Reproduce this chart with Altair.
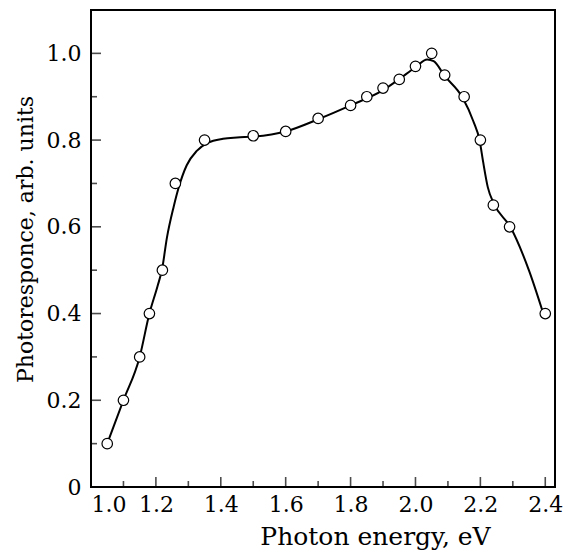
import altair as alt
import pandas as pd

# measured points
energy = [1.05, 1.10, 1.15, 1.18, 1.22, 1.26, 1.35, 1.50, 1.60, 1.70, 1.80, 1.85,
          1.90, 1.95, 2.00, 2.05, 2.09, 2.15, 2.20, 2.24, 2.29, 2.40]
response = [0.10, 0.20, 0.30, 0.40, 0.50, 0.70, 0.80, 0.81, 0.82, 0.85, 0.88, 0.90,
            0.92, 0.94, 0.97, 1.00, 0.95, 0.90, 0.80, 0.65, 0.60, 0.40]

# smooth curve
curve_x = [1.05, 1.10, 1.15, 1.18, 1.205, 1.219, 1.234, 1.255, 1.27, 1.295, 1.326, 1.361,
           1.407, 1.45, 1.50, 1.60, 1.70, 1.80, 1.90, 1.945, 2.00, 2.036, 2.056, 2.09,
           2.145, 2.178, 2.198, 2.208, 2.223, 2.242, 2.293, 2.35, 2.391]
curve_y = [0.10, 0.20, 0.30, 0.40, 0.463, 0.502, 0.575, 0.647, 0.69, 0.742, 0.775, 0.794,
           0.803, 0.806, 0.808, 0.82, 0.848, 0.88, 0.915, 0.938, 0.968, 0.986, 0.982, 0.948,
           0.898, 0.844, 0.798, 0.752, 0.691, 0.653, 0.599, 0.499, 0.407]

x_major = [1.0, 1.2, 1.4, 1.6, 1.8, 2.0, 2.2, 2.4]
x_minor = [1.1, 1.3, 1.5, 1.7, 1.9, 2.1, 2.3]
y_major = [0.0, 0.2, 0.4, 0.6, 0.8, 1.0]
y_minor = [0.1, 0.3, 0.5, 0.7, 0.9]

FONT = "DejaVu Serif"
X_DOMAIN = [1.0, 2.43]
Y_DOMAIN = [0.0, 1.1]

pts = pd.DataFrame({"x": energy, "y": response})
crv = pd.DataFrame({"x": curve_x, "y": curve_y})

xs = alt.Scale(domain=X_DOMAIN, nice=False, zero=False)
ys = alt.Scale(domain=Y_DOMAIN, nice=False, zero=False)

x_axis = alt.Axis(
    values=x_major, format=".1f", title="Photon energy, eV",
    ticks=False, domain=False, grid=False,
    labelFont=FONT, labelFontSize=22, labelColor="black", labelPadding=7,
    titleFont=FONT, titleFontSize=25, titleFontWeight="normal", titleColor="black",
    titleX=284, titleY=57, titleAlign="center", titleBaseline="alphabetic",
)
y_axis = alt.Axis(
    values=y_major, title="Photoresponce, arb. units",
    labelExpr="datum.value == 0 ? '0' : format(datum.value, '.1f')",
    ticks=False, domain=False, grid=False,
    labelFont=FONT, labelFontSize=22, labelColor="black", labelPadding=10,
    titleFont=FONT, titleFontSize=22, titleFontWeight="normal", titleColor="black",
    titleX=-59, titleY=229, titleAngle=-90, titleAlign="center", titleBaseline="alphabetic",
)

line = alt.Chart(crv).mark_line(color="black", strokeWidth=2, interpolate="monotone").encode(
    x=alt.X("x:Q", scale=xs, axis=x_axis),
    y=alt.Y("y:Q", scale=ys, axis=y_axis),
)
points = alt.Chart(pts).mark_point(
    shape="circle", filled=True, fill="white", stroke="black", strokeWidth=1.2, size=110, opacity=1
).encode(x=alt.X("x:Q", scale=xs), y=alt.Y("y:Q", scale=ys))

xmaj = alt.Chart(pd.DataFrame({"x": x_major})).mark_tick(
    orient="vertical", size=10, thickness=1.6, color="black", yOffset=-5
).encode(x=alt.X("x:Q", scale=xs), y=alt.datum(0.0, scale=ys))
xmin = alt.Chart(pd.DataFrame({"x": x_minor})).mark_tick(
    orient="vertical", size=6, thickness=1.6, color="black", yOffset=-3
).encode(x=alt.X("x:Q", scale=xs), y=alt.datum(0.0, scale=ys))
ymaj = alt.Chart(pd.DataFrame({"y": y_major})).mark_tick(
    orient="horizontal", size=10, thickness=1.6, color="black", xOffset=5
).encode(y=alt.Y("y:Q", scale=ys), x=alt.datum(1.0, scale=xs))
ymin = alt.Chart(pd.DataFrame({"y": y_minor})).mark_tick(
    orient="horizontal", size=6, thickness=1.6, color="black", xOffset=3
).encode(y=alt.Y("y:Q", scale=ys), x=alt.datum(1.0, scale=xs))

chart = alt.layer(line, xmaj, xmin, ymaj, ymin, points).properties(
    width=464, height=477,
    autosize=alt.AutoSizeParams(type="none"),
    padding={"left": 83, "top": 2, "right": 8, "bottom": 63},
    background="white",
).configure_view(stroke="black", strokeWidth=2, fill="white")

chart.save("out.html", embed_options={"renderer": "svg", "actions": False})
